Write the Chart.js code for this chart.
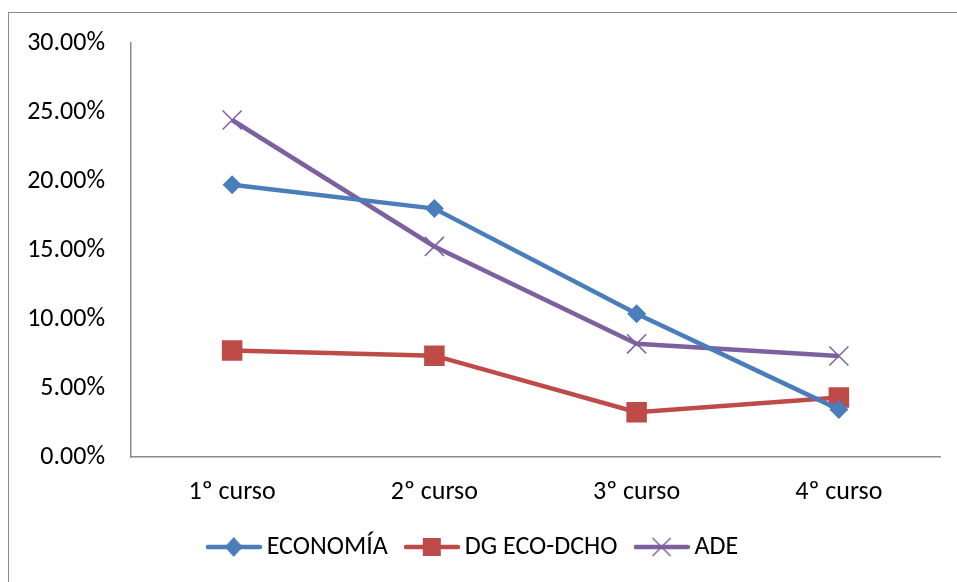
<!DOCTYPE html>
<html>
<head>
<meta charset="utf-8">
<script src="https://cdn.jsdelivr.net/npm/chart.js@4"></script>
<style>
  html, body { margin: 0; padding: 0; background: #fff; overflow: hidden; }
  #frame { position: absolute; left: 8px; top: 12px; width: 1000px; height: 700px; border: 1.5px solid #8a8a8a; }
  #wrap { position: absolute; left: 0; top: 0; width: 957px; height: 582px; }
</style>
</head>
<body>
<div id="frame"></div>
<div id="wrap"><canvas id="chart"></canvas></div>
<script>
  const cursos = ['1º curso', '2º curso', '3º curso', '4º curso'];
  const economia = [19.73, 18.0, 10.38, 3.45];
  const dgEcoDcho = [7.72, 7.34, 3.24, 4.32];
  const ade = [24.42, 15.26, 8.2, 7.32];
  const yTicks = [0, 5, 10, 15, 20, 25, 30];

  const azul = '#4A7EBB', rojo = '#BE4B48', morado = '#7D60A0';
  const fuente = 'Carlito, Lato, sans-serif';

  // icono de leyenda: linea + marcador, como en Excel
  function icono(color, forma) {
    const c = document.createElement('canvas');
    c.width = 56; c.height = 24;
    const g = c.getContext('2d');
    g.strokeStyle = color; g.lineWidth = 4.5; g.lineCap = 'round';
    g.beginPath(); g.moveTo(2, 12); g.lineTo(54, 12); g.stroke();
    g.fillStyle = color;
    if (forma === 'diamond') {
      g.beginPath(); g.moveTo(28, 2); g.lineTo(37, 12); g.lineTo(28, 22); g.lineTo(19, 12); g.closePath(); g.fill();
    } else if (forma === 'square') {
      g.fillRect(19, 3, 18, 18);
    } else {
      g.lineWidth = 1.5; g.lineCap = 'butt';
      g.beginPath(); g.moveTo(19, 3); g.lineTo(37, 21); g.moveTo(37, 3); g.lineTo(19, 21); g.stroke();
    }
    return c;
  }
  const iconos = [icono(azul, 'diamond'), icono(rojo, 'square'), icono(morado, 'cross')];

  new Chart(document.getElementById('chart'), {
    type: 'line',
    data: {
      labels: cursos,
      datasets: [
        { label: 'ECONOMÍA', data: economia, borderColor: azul, backgroundColor: azul, borderWidth: 4.5,
          pointStyle: 'rectRot', pointRadius: 9.5, pointBorderWidth: 0 },
        { label: 'DG ECO-DCHO', data: dgEcoDcho, borderColor: rojo, backgroundColor: rojo, borderWidth: 4.5,
          pointStyle: 'rect', pointRadius: 14.5, pointBorderWidth: 0 },
        { label: 'ADE', data: ade, borderColor: morado, backgroundColor: morado, borderWidth: 4.5,
          pointStyle: 'crossRot', pointRadius: 13.5, pointBorderWidth: 1.5 }
      ]
    },
    options: {
      responsive: true,
      maintainAspectRatio: false,
      animation: false,
      layout: { padding: { left: 12, right: 17, top: 43, bottom: 12 } },
      elements: { line: { tension: 0 } },
      scales: {
        x: {
          offset: true,
          grid: { display: false, drawTicks: false },
          border: { display: true, color: '#8a8a8a', width: 1.5 },
          ticks: { color: '#000', padding: 20, font: { family: fuente, size: 26 } },
          afterFit: s => { s.height = 53; }
        },
        y: {
          min: 0, max: 30,
          afterBuildTicks: s => { s.ticks = yTicks.map(v => ({ value: v })); },
          grid: { display: false, drawTicks: false },
          border: { display: true, color: '#8a8a8a', width: 1.5 },
          ticks: { color: '#000', padding: 26, font: { family: fuente, size: 26 },
                   callback: v => v.toFixed(2) + '%' },
          afterFit: s => { s.width = 119; }
        }
      },
      plugins: {
        tooltip: { enabled: false },
        legend: {
          position: 'bottom',
          labels: {
            usePointStyle: true,
            pointStyleWidth: 40,
            padding: 24,
            color: '#000',
            font: { family: fuente, size: 26 },
            generateLabels: chart => Chart.defaults.plugins.legend.labels.generateLabels(chart)
              .map((l, i) => ({ ...l, pointStyle: iconos[i] }))
          }
        }
      }
    }
  });
</script>
</body>
</html>
